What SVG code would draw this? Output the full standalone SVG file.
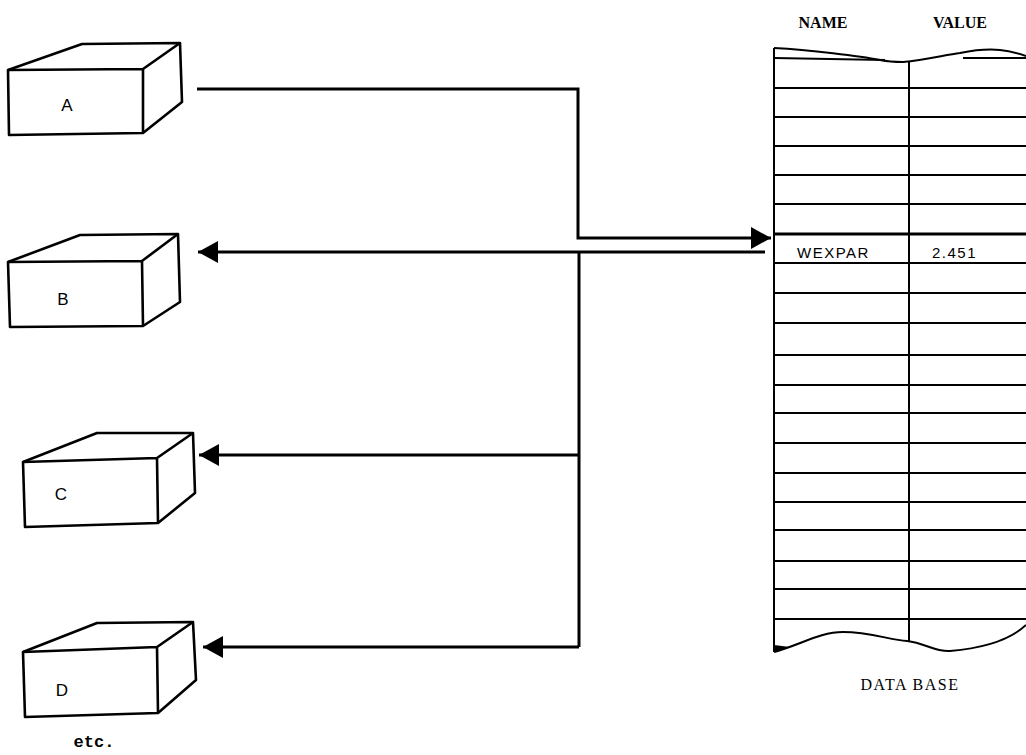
<svg xmlns="http://www.w3.org/2000/svg" width="1026" height="755" viewBox="0 0 1026 755">
<style>
.box{fill:#fff;stroke:#000;stroke-width:2.6;stroke-linejoin:round}
.edge{fill:none;stroke:#000;stroke-width:2.6}
.conn{fill:none;stroke:#000;stroke-width:3}
.grid{fill:none;stroke:#000;stroke-width:2}
.lbl{font-family:"Liberation Sans",Arial,sans-serif;font-size:17px;fill:#000;text-anchor:middle}
.hdr{font-family:"Liberation Serif","Times New Roman",serif;font-size:16px;font-weight:bold;fill:#000;text-anchor:middle}
.cell{font-family:"Liberation Sans",Arial,sans-serif;font-size:15px;fill:#000;letter-spacing:1.5px}
</style>
<defs>
<marker id="ah" viewBox="0 0 20 22" refX="20" refY="11" markerWidth="20" markerHeight="22" markerUnits="userSpaceOnUse" orient="auto">
<path d="M0,0 L20,11 L0,22 Z" fill="#000"/>
</marker>
</defs>
<rect width="1026" height="755" fill="#fff"/>

<g id="node-A">
<path class="box" d="M8,70 L82,44 L180,43 L182,102 L143,133 L9,135 Z"/>
<path class="edge" d="M8,70 L143,69 L180,43 M143,69 L143,133"/>
<text class="lbl" x="67" y="111">A</text>
</g>
<g id="node-B">
<path class="box" d="M8,262 L80,235 L178,234 L180,302 L143,326 L10,327 Z"/>
<path class="edge" d="M8,262 L142,261 L178,234 M142,261 L143,326"/>
<text class="lbl" x="63" y="305">B</text>
</g>
<g id="node-C">
<path class="box" d="M23,462 L97,433 L193,433 L195,493 L158,523 L25,527 Z"/>
<path class="edge" d="M23,462 L157,458 L193,433 M157,458 L158,523"/>
<text class="lbl" x="61" y="500">C</text>
</g>
<g id="node-D">
<path class="box" d="M23,652 L97,623 L193,622 L196,680 L158,713 L25,717 Z"/>
<path class="edge" d="M23,652 L157,647 L193,622 M157,647 L158,713"/>
<text class="lbl" x="62" y="696">D</text>
<text x="94" y="747" font-family="Liberation Mono,Courier New,monospace" font-size="17" font-weight="bold" text-anchor="middle">etc.</text>
</g>

<g id="node-database">
<text class="hdr" x="823" y="28">NAME</text>
<text class="hdr" x="960" y="28">VALUE</text>
<path class="grid" d="M774,48 C810,50 860,56 880,60 C890,62 897,62 903,62 C925,60 945,55 960,53 C975,50 990,49 1000,50 C1010,51 1020,54 1026,56"/>
<path class="grid" d="M774,58 L885,60 M963,58 L1026,58"/>
<path class="grid" d="M774,48 L774,652 M909,62 L909,641"/>
<path class="grid" d="M774,88H1026 M774,117H1026 M774,146H1026 M774,175H1026 M774,204H1026 M774,263H1026 M774,293H1026 M774,323H1026 M774,355H1026 M774,385H1026 M774,413H1026 M774,443H1026 M774,473H1026 M774,502H1026 M774,530H1026 M774,561H1026 M774,589H1026 M774,619H1026"/>
<path d="M774,234H1026" fill="none" stroke="#000" stroke-width="3"/>
<path class="grid" d="M774,652 C800,645 820,632 843,632 C870,632 890,640 907,641 C925,643 935,652 950,651 C985,648 1010,640 1026,625"/>
<path d="M774,652 L774,645 L790,647 Z" fill="#000"/>
<text class="cell" x="797" y="258">WEXPAR</text>
<text class="cell" x="932" y="258">2.451</text>
<text class="hdr" x="910" y="690" style="font-weight:normal;letter-spacing:1.5px">DATA BASE</text>
</g>

<g id="connectors">
<path class="conn" d="M197,89 L578,89 L578,238 L771,238" marker-end="url(#ah)"/>
<path class="conn" d="M765,252 L198,252" marker-end="url(#ah)"/>
<path class="conn" d="M579,252 L579,647"/>
<path class="conn" d="M579,455 L199,455" marker-end="url(#ah)"/>
<path class="conn" d="M579,647 L203,647" marker-end="url(#ah)"/>
</g>
</svg>
